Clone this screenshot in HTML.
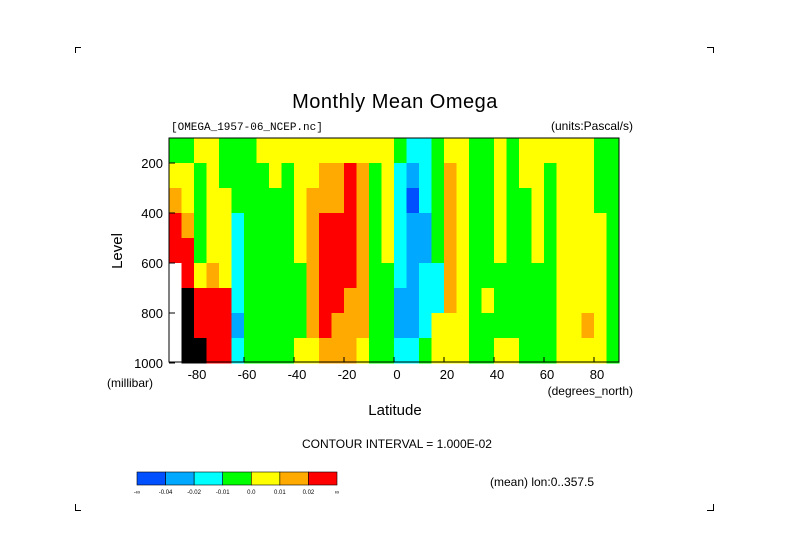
<!DOCTYPE html>
<html><head><meta charset="utf-8"><style>
html,body{margin:0;padding:0;background:#fff;}
svg{display:block;font-family:"Liberation Sans",sans-serif;}
</style></head><body>
<svg id="chart" width="789" height="558" viewBox="0 0 789 558">
<g stroke="#000" stroke-width="1" fill="none">
<path d="M75.5,53 V47.5 H81"/><path d="M707,47.5 H713.5 V53"/><path d="M75.5,504 V510.5 H81"/><path d="M707,510.5 H713.5 V504"/>
</g>
<text x="395" y="108" font-size="20" text-anchor="middle" font-weight="normal" letter-spacing="0.5">Monthly Mean Omega</text>
<text x="171" y="130" font-size="11" font-family="Liberation Mono,monospace">[OMEGA_1957-06_NCEP.nc]</text>
<text x="633" y="130" font-size="12" text-anchor="end">(units:Pascal/s)</text>
<g id="cells"></g>
<rect x="169" y="138" width="450" height="224" fill="none" stroke="#000" stroke-width="1"/>
<g id="axes" font-size="13"></g>
<text x="0" y="0" font-size="15" text-anchor="middle" transform="translate(122,251) rotate(-90)">Level</text>
<text x="107" y="387" font-size="12">(millibar)</text>
<text x="633" y="395" font-size="12" text-anchor="end">(degrees_north)</text>
<text x="395" y="415" font-size="15" text-anchor="middle">Latitude</text>
<text x="397" y="448" font-size="12" text-anchor="middle">CONTOUR INTERVAL = 1.000E-02</text>
<text x="490" y="486" font-size="12">(mean) lon:0..357.5</text>
<g id="cbar"></g>
</svg>
<script>
const latitudes=[-87.5,-82.5,-77.5,-72.5,-67.5,-62.5,-57.5,-52.5,-47.5,-42.5,-37.5,-32.5,-27.5,-22.5,-17.5,-12.5,-7.5,-2.5,2.5,7.5,12.5,17.5,22.5,27.5,32.5,37.5,42.5,47.5,52.5,57.5,62.5,67.5,72.5,77.5,82.5,87.5];
const levels=[150,250,350,450,550,650,750,850,950];
// column-wise codes per latitude, rows top (150mb) to bottom (950mb)
const G=-0.005,Y=0.005,O=0.015,R=0.03,C=-0.015,B=-0.03,D=-0.05,W=null,K=9;
const omegaCols=[
[G,Y,O,R,R,W,W,W,W],[G,Y,Y,O,R,R,K,K,K],[Y,G,G,G,G,Y,R,R,K],[Y,Y,Y,Y,Y,O,R,R,R],
[G,G,Y,Y,Y,Y,R,R,R],[G,G,G,C,C,C,C,B,C],[G,G,G,G,G,G,G,G,G],[Y,G,G,G,G,G,G,G,G],
[Y,Y,G,G,G,G,G,G,G],[Y,G,G,G,G,G,G,G,G],[Y,Y,Y,Y,Y,G,G,G,Y],[Y,Y,O,O,O,O,O,O,Y],
[Y,O,O,R,R,R,R,R,O],[Y,O,O,R,R,R,R,O,O],[Y,R,R,R,R,R,O,O,O],[Y,O,O,O,O,O,O,O,Y],
[Y,G,G,G,G,G,G,G,G],[Y,Y,Y,Y,Y,G,G,G,G],[G,C,C,C,C,C,B,B,C],[C,B,D,B,B,B,B,B,C],
[C,C,C,B,B,C,C,C,G],[G,G,G,G,G,C,C,Y,Y],[Y,O,O,O,O,O,O,Y,Y],[Y,Y,Y,Y,Y,Y,Y,Y,Y],
[G,G,G,G,G,G,G,G,G],[G,G,G,G,G,G,Y,G,G],[Y,Y,Y,Y,Y,G,G,G,Y],[G,G,G,G,G,G,G,G,Y],
[Y,Y,G,G,G,G,G,G,G],[Y,Y,Y,Y,Y,G,G,G,G],[Y,G,G,G,G,G,G,G,G],[Y,Y,Y,Y,Y,Y,Y,Y,Y],
[Y,Y,Y,Y,Y,Y,Y,Y,Y],[Y,Y,Y,Y,Y,Y,Y,O,Y],[G,G,G,Y,Y,Y,Y,Y,Y],[G,G,G,G,G,G,G,G,G]];
const xTicks=[-80,-60,-40,-20,0,20,40,60,80];
const yTicks=[200,400,600,800,1000];
const cbarLabels=["-\u221e","-0.04","-0.02","-0.01","0.0","0.01","0.02","\u221e"];
const cbarColors=["#0050ff","#00a8ff","#00ffff","#00ff00","#ffff00","#ffaa00","#ff0000"];

const NS="http://www.w3.org/2000/svg";
const xS=lat=>169+(lat+90)*2.5;
const yS=p=>138+(p-100)*0.25;
function colorOf(v){
  if(v===null) return "#ffffff";
  if(v===9) return "#000000";
  if(v<-0.04) return cbarColors[0];
  if(v<-0.02) return cbarColors[1];
  if(v<-0.01) return cbarColors[2];
  if(v<0) return cbarColors[3];
  if(v<0.01) return cbarColors[4];
  if(v<0.02) return cbarColors[5];
  return cbarColors[6];
}
const cells=document.getElementById('cells');
latitudes.forEach((lat,i)=>{
  levels.forEach((lv,j)=>{
    const r=document.createElementNS(NS,'rect');
    r.setAttribute('x',xS(lat-2.5));r.setAttribute('y',yS(lv-50));
    r.setAttribute('width',xS(lat+2.5)-xS(lat-2.5)+0.5);
    r.setAttribute('height',yS(lv+50)-yS(lv-50)+0.5);
    r.setAttribute('fill',colorOf(omegaCols[i][j]));
    
    
    cells.appendChild(r);
  });
});
const axes=document.getElementById('axes');
xTicks.forEach(t=>{
  const l=document.createElementNS(NS,'line');
  l.setAttribute('x1',xS(t));l.setAttribute('x2',xS(t));l.setAttribute('y1',362);l.setAttribute('y2',357);l.setAttribute('stroke','#000');
  
  
  axes.appendChild(l);
  const tx=document.createElementNS(NS,'text');
  tx.setAttribute('x',xS(t)+3);tx.setAttribute('y',379);tx.setAttribute('text-anchor','middle');
  tx.textContent=t;
  
  
  axes.appendChild(tx);
});
yTicks.forEach(t=>{
  const l=document.createElementNS(NS,'line');
  l.setAttribute('x1',169);l.setAttribute('x2',175);l.setAttribute('y1',yS(t));l.setAttribute('y2',yS(t));l.setAttribute('stroke','#000');
  
  
  axes.appendChild(l);
  const tx=document.createElementNS(NS,'text');
  tx.setAttribute('x',163);tx.setAttribute('y',yS(t)+5);tx.setAttribute('text-anchor','end');
  tx.textContent=t;
  
  
  axes.appendChild(tx);
});
const cbar=document.getElementById('cbar');
const cw=200/cbarColors.length;
cbarColors.forEach((c,i)=>{
  const r=document.createElementNS(NS,'rect');
  r.setAttribute('x',137+i*cw);r.setAttribute('y',472);r.setAttribute('width',cw);r.setAttribute('height',13);
  r.setAttribute('fill',c);r.setAttribute('stroke','#000');r.setAttribute('stroke-width','0.6');
  
  
  cbar.appendChild(r);
});
cbarLabels.forEach((s,i)=>{
  const tx=document.createElementNS(NS,'text');
  tx.setAttribute('x',137+i*cw);tx.setAttribute('y',494);tx.setAttribute('text-anchor','middle');tx.setAttribute('font-size','6');
  tx.textContent=s;
  
  
  cbar.appendChild(tx);
});
</script>
</body></html>
